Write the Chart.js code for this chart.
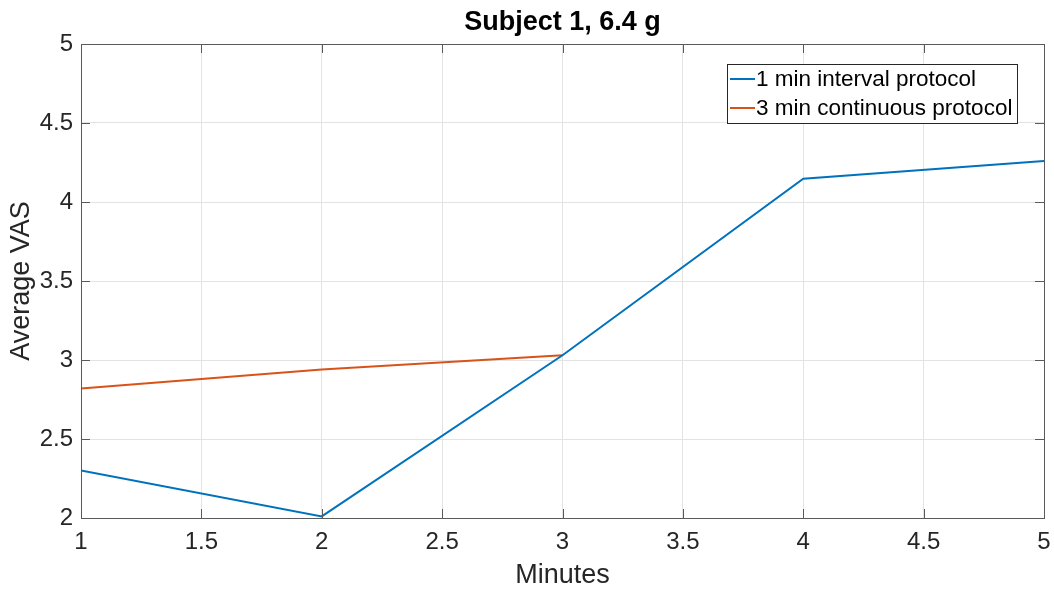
<!DOCTYPE html>
<html>
<head>
<meta charset="utf-8">
<script src="https://cdn.jsdelivr.net/npm/chart.js@4/dist/chart.umd.min.js"></script>
<style>
  html, body { margin: 0; padding: 0; background: #fff; }
  #wrap { width: 1054px; height: 589px; position: relative; }
</style>
</head>
<body>
<div id="wrap"><canvas id="c"></canvas></div>
<script>
// dados
const minutes = [1, 2, 3, 4, 5]
const intervalVas = [2.30, 2.01, 3.03, 4.147, 4.26]
const continuousMinutes = [1, 2, 3]
const continuousVas = [2.82, 2.94, 3.03]
const seriesLabels = ['1 min interval protocol', '3 min continuous protocol']

const FONT = '"Liberation Sans", Arial, Helvetica, sans-serif'
const INK = '#262626'
const AXIS = '#5a5a5a'

const toPoints = (xs, ys) => xs.map((x, i) => ({ x: x, y: ys[i] }))

// caixa completa (estilo MATLAB), ticks para dentro e legenda dentro da area
const boxAndLegend = {
  id: 'boxAndLegend',
  afterDraw(chart) {
    const { ctx, chartArea: a } = chart
    const xs = chart.scales.x, ys = chart.scales.y
    ctx.save()
    ctx.strokeStyle = AXIS
    ctx.lineWidth = 1
    ctx.strokeRect(a.left + 0.5, a.top + 0.5, a.right - a.left, a.bottom - a.top)

    // ticks para dentro
    const len = 9
    ctx.beginPath()
    xs.ticks.forEach(t => {
      const px = Math.round(xs.getPixelForValue(t.value)) + 0.5
      ctx.moveTo(px, a.bottom); ctx.lineTo(px, a.bottom - len)
      ctx.moveTo(px, a.top); ctx.lineTo(px, a.top + len)
    })
    ys.ticks.forEach(t => {
      const py = Math.round(ys.getPixelForValue(t.value)) + 0.5
      ctx.moveTo(a.left, py); ctx.lineTo(a.left + len, py)
      ctx.moveTo(a.right, py); ctx.lineTo(a.right - len, py)
    })
    ctx.stroke()

    // legenda
    const lx = 727, ly = 64, lw = 290, lh = 59
    ctx.fillStyle = '#fff'
    ctx.fillRect(lx, ly, lw, lh)
    ctx.strokeStyle = INK
    ctx.strokeRect(lx + 0.5, ly + 0.5, lw, lh)
    ctx.font = '22.5px ' + FONT
    ctx.textBaseline = 'middle'
    chart.data.datasets.forEach((ds, i) => {
      const y = ly + 15 + i * 29
      ctx.strokeStyle = ds.borderColor
      ctx.lineWidth = 2
      ctx.beginPath()
      ctx.moveTo(lx + 3, y)
      ctx.lineTo(lx + 28, y)
      ctx.stroke()
      ctx.fillStyle = '#000'
      ctx.fillText(ds.label, lx + 29, y + 1)
    })
    ctx.restore()
  }
}

new Chart(document.getElementById('c'), {
  type: 'line',
  data: {
    datasets: [
      {
        label: seriesLabels[0],
        data: toPoints(minutes, intervalVas),
        borderColor: '#0072BD',
        borderWidth: 2,
        pointRadius: 0,
        tension: 0
      },
      {
        label: seriesLabels[1],
        data: toPoints(continuousMinutes, continuousVas),
        borderColor: '#D95319',
        borderWidth: 2,
        pointRadius: 0,
        tension: 0
      }
    ]
  },
  options: {
    responsive: true,
    maintainAspectRatio: false,
    animation: false,
    layout: { padding: { left: 0, right: 10, top: 0, bottom: 0 } },
    plugins: {
      legend: { display: false },
      tooltip: { enabled: false },
      title: {
        display: true,
        fullSize: false,
        text: 'Subject 1, 6.4 g',
        color: '#000',
        font: { family: FONT, size: 27, weight: 'bold', lineHeight: 1.2 },
        padding: { top: 6, bottom: 5.6 }
      }
    },
    scales: {
      x: {
        type: 'linear',
        min: 1,
        max: 5,
        ticks: {
          stepSize: 0.5,
          color: INK,
          padding: 10,
          font: { family: FONT, size: 24 },
          callback: (v) => String(v)
        },
        grid: { color: '#e3e3e3', drawTicks: false },
        border: { color: AXIS },
        title: {
          display: true,
          text: 'Minutes',
          color: INK,
          font: { family: FONT, size: 27, lineHeight: 1 },
          padding: { top: 0, bottom: 0 }
        },
        afterFit: (scale) => {
          scale.height = 71
          scale.paddingLeft = 0
          scale.paddingRight = 0
        }
      },
      y: {
        min: 2,
        max: 5,
        ticks: {
          stepSize: 0.5,
          color: INK,
          padding: 8,
          font: { family: FONT, size: 24 },
          callback: (v) => String(v)
        },
        grid: { color: '#e3e3e3', drawTicks: false },
        border: { color: AXIS },
        title: {
          display: true,
          text: 'Average VAS',
          color: INK,
          font: { family: FONT, size: 27, lineHeight: 1 },
          padding: { top: 8, bottom: 0 }
        },
        afterFit: (scale) => { scale.width = 81 }
      }
    }
  },
  plugins: [boxAndLegend]
})
</script>
</body>
</html>
